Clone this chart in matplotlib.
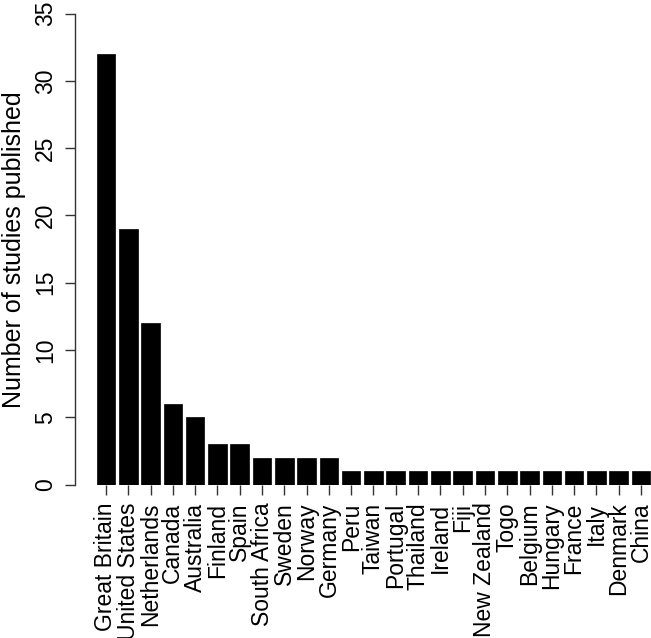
import matplotlib
matplotlib.use("Agg")
import matplotlib.pyplot as plt

countries = ["Great Britain", "United States", "Netherlands", "Canada", "Australia",
             "Finland", "Spain", "South Africa", "Sweden", "Norway", "Germany",
             "Peru", "Taiwan", "Portugal", "Thailand", "Ireland", "Fiji",
             "New Zealand", "Togo", "Belgium", "Hungary", "France", "Italy",
             "Denmark", "China"]
studies = [32, 19, 12, 6, 5, 3, 3, 2, 2, 2, 2,
           1, 1, 1, 1, 1, 1, 1, 1, 1, 1, 1, 1, 1, 1]
yticks = [0, 5, 10, 15, 20, 25, 30, 35]

plt.rcParams['font.family'] = ['Liberation Sans', 'DejaVu Sans']
W, H = 651, 638
fig = plt.figure(figsize=(W / 100, H / 100), dpi=100)
ax_left, ax_right = 75, 651
ax_top, ax_bot = 13.5, 484.5
ax = fig.add_axes([ax_left / W, (H - ax_bot) / H, (ax_right - ax_left) / W, (ax_bot - ax_top) / H])

pos = list(range(len(countries)))
ax.bar(pos, studies, width=1 / 1.2, color="black", edgecolor="black", linewidth=0.5)

step = 22.29
c0 = 106.0
ax.set_xlim((ax_left - c0) / step, (ax_right - c0) / step)
ax.set_ylim(0, 35)

for s in ["top", "right", "bottom"]:
    ax.spines[s].set_visible(False)
ax.spines["left"].set_linewidth(1.0)
ax.spines["left"].set_color("#333333")

ax.set_yticks(yticks)
ax.set_yticklabels([str(v) for v in yticks], rotation=90, va="center")
ax.set_xticks(pos)
ax.set_xticklabels(countries, rotation=90, ha="center", va="top")
ax.tick_params(axis="y", direction="out", length=7, width=1.0, color="#333333",
               labelsize=16.5, pad=6)
ax.tick_params(axis="x", direction="out", length=7, width=1.0, color="#333333",
               labelsize=16.5, pad=6)

fig.text(14 / W, (H - 250) / H, "Number of studies published", rotation=90,
         ha="center", va="center", fontsize=18)

fig.savefig("out.png", dpi=100)
